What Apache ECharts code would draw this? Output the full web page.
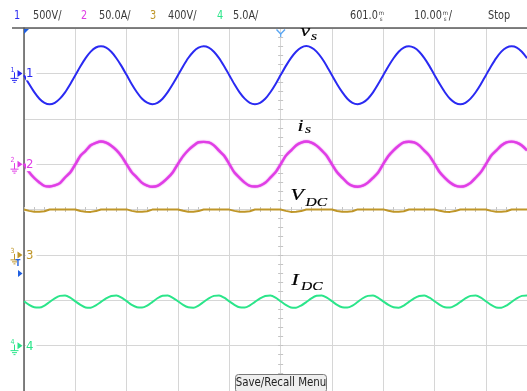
<!DOCTYPE html>
<html>
<head>
<meta charset="utf-8">
<script src="https://cdn.jsdelivr.net/npm/echarts@6/dist/echarts.min.js"></script>
<style>
  html, body { margin: 0; padding: 0; background: #fff; }
  #scope { width: 527px; height: 391px; }
</style>
</head>
<body>
<div id="scope"></div>
<script>
// Acquisition: one sample per millisecond, time measured from the trigger point
const T_START = -50;   // ms
const T_STEP = 1;      // ms

// Channel 1: grid voltage v_s (V)
const vs = [
  -20,-118,-207,-279,-325,-341,-324,-278,-209,-120,-21,78,168,240,285,299,284,238,167,80,
  -19,-119,-208,-280,-323,-340,-325,-279,-207,-118,-20,79,169,239,283,300,285,239,168,78,
  -20,-120,-209,-278,-324,-339,-324,-280,-208,-119,-19,80,168,238,284,301,284,240,169,79,
  -21,-119,-207,-279,-325,-340,-323,-279,-209,-118,-20,79,167,239,285,300,283,239,168,80,
  -20,-118,-208,-280,-324,-341,-324,-278,-208,-120,-20,78,168,240,284,299,285,238,167
];

// Channel 2: grid current i_s (A)
const is = [
  0.4,-8.8,-15.3,-20.2,-24.1,-24.6,-23.5,-20.9,-14.7,-9.3,-0.3,9.2,14.6,20.8,23.5,25.0,23.6,20.3,15.4,8.7,
  -0.2,-9.1,-14.8,-20.7,-23.6,-25.0,-24.0,-20.3,-15.2,-8.9,0.3,8.8,15.3,20.2,24.1,24.5,24.0,20.7,14.8,9.2,
  0.1,-9.3,-15.1,-20.4,-23.9,-24.7,-23.6,-20.6,-14.9,-9.0,-0.2,9.1,14.9,20.6,23.7,24.9,23.7,20.4,15.1,8.9,
  -0.3,-8.9,-14.9,-20.6,-24.0,-24.9,-23.8,-20.4,-15.1,-9.2,0.2,9.0,15.2,20.3,23.9,24.6,23.9,20.6,14.9,9.1,
  0.2,-9.0,-15.2,-20.3,-23.7,-24.8,-23.9,-20.7,-15.0,-8.8,-0.1,9.3,14.8,20.5,24.0,24.8,23.6,20.5,15.2
];

// Channel 3: DC-link voltage V_DC (V)
const vdc = [
  400,388,380,380,385,400,401,400,400,399,
  400,387,381,379,386,400,400,399,400,400,
  401,388,380,381,384,399,400,400,401,400,
  400,389,381,380,386,400,399,400,400,400,
  399,388,380,381,385,400,400,401,400,400,
  400,388,379,381,386,400,400,400,399,400,
  400,387,381,380,385,401,400,400,400,400,
  401,389,380,381,384,400,400,399,400,400,
  400,388,381,379,386,400,400,400,400,401,
  400,388,380,381,385,400,400,400,399
];

// Channel 4: DC-link current I_DC (A)
const idc = [
  4.89,4.49,4.22,4.19,4.42,4.81,5.21,5.48,5.51,5.28,
  4.88,4.50,4.21,4.18,4.43,4.82,5.20,5.47,5.52,5.29,
  4.90,4.48,4.23,4.19,4.41,4.80,5.22,5.49,5.51,5.27,
  4.89,4.49,4.22,4.17,4.42,4.81,5.21,5.48,5.53,5.28,
  4.87,4.50,4.22,4.19,4.43,4.82,5.20,5.47,5.51,5.29,
  4.89,4.49,4.21,4.18,4.42,4.80,5.21,5.49,5.52,5.28,
  4.90,4.48,4.22,4.19,4.41,4.81,5.22,5.48,5.51,5.27,
  4.88,4.49,4.23,4.18,4.42,4.82,5.21,5.47,5.52,5.28,
  4.89,4.50,4.22,4.19,4.43,4.81,5.20,5.48,5.51,5.29,
  4.89,4.49,4.21,4.18,4.42,4.81,5.21,5.48,5.52
];

// Vertical settings per channel: units per division and ground position (divisions)
const channelNames = ['1', '2', '3', '4'];
const channelScales = [500, 50, 400, 5];
const channelScaleText = ['500V/', '50.0A/', '400V/', '5.0A/'];
const channelOffsets = [3, 1, -1, -3];
const channelColors = ['#2a2af2', '#e03ee6', '#bf9628', '#2be58a'];
const channelData = [vs, is, vdc, idc];

// Horizontal settings
const timeDivText = '10.00';
const timePosText = '601.0';
const runState = 'Stop';

const UI_FONT = '"Liberation Sans Narrow", "DejaVu Sans Condensed", "Roboto", sans-serif';
const SERIF = '"Liberation Serif", "DejaVu Serif", serif';
const GRID_COLOR = '#d6d6d6';
const FRAME_COLOR = '#5a5a5a';
const HEAD_SCALE = 0.9;

const chart = echarts.init(document.getElementById('scope'), null, { renderer: 'canvas' });

function toDiv(values, scale, offset) {
  return values.map((v, i) => [T_START + i * T_STEP, offset + v / scale]);
}

const series = channelData.map((vals, c) => ({
  type: 'line',
  name: 'CH' + channelNames[c],
  xAxisIndex: 0,
  yAxisIndex: 0,
  data: toDiv(vals, channelScales[c], channelOffsets[c]),
  showSymbol: false,
  symbol: 'none',
  smooth: c === 2 ? false : 0.25,
  lineStyle: c === 1
    ? { color: channelColors[c], width: 2.4, shadowBlur: 1.5, shadowColor: 'rgba(224,62,230,0.9)' }
    : { color: channelColors[c], width: 2 },
  z: 10 + c,
  silent: true
}));

// Axes 1/2 carry the small graduation ticks on the centre cross-hair
const tickAxisCommon = {
  type: 'value', min: -50, max: 48, interval: 2,
  axisLabel: { show: false }, splitLine: { show: false },
  axisLine: { show: true, onZero: true, lineStyle: { opacity: 0 } }
};
const yTickAxisCommon = {
  type: 'value', min: -4, max: 4, interval: 0.2,
  axisLabel: { show: false }, splitLine: { show: false },
  axisLine: { show: true, onZero: true, onZeroAxisIndex: 0, lineStyle: { opacity: 0 } }
};

chart.setOption({
  animation: false,
  backgroundColor: '#ffffff',
  grid: { left: 24, right: 0, top: 28, bottom: -2, containLabel: false },
  xAxis: [
    {
      type: 'value', min: -50, max: 48, interval: 10, position: 'bottom',
      axisLine: { show: false, onZero: false },
      axisTick: { show: false }, axisLabel: { show: false },
      splitLine: { show: true, lineStyle: { color: GRID_COLOR, width: 1 } }
    },
    Object.assign({}, tickAxisCommon, { axisTick: { show: true, inside: true, length: 2.5, lineStyle: { color: '#c4c4c4' } } }),
    Object.assign({}, tickAxisCommon, { axisTick: { show: true, inside: false, length: 2.5, lineStyle: { color: '#c4c4c4' } } })
  ],
  yAxis: [
    {
      type: 'value', min: -4, max: 4, interval: 1, position: 'left',
      axisLine: { show: true, onZero: false, lineStyle: { color: FRAME_COLOR, width: 1.5 } },
      axisTick: { show: false }, axisLabel: { show: false },
      splitLine: { show: true, lineStyle: { color: GRID_COLOR, width: 1 } }
    },
    Object.assign({}, yTickAxisCommon, { axisTick: { show: true, inside: true, length: 2.5, lineStyle: { color: '#c4c4c4' } } }),
    Object.assign({}, yTickAxisCommon, { axisTick: { show: true, inside: false, length: 2.5, lineStyle: { color: '#c4c4c4' } } })
  ],
  series: series
});

// ---- Screen annotations ----
const g = [];
const measureCtx = document.createElement('canvas').getContext('2d');
function textWidth(str, font) {
  measureCtx.font = font;
  return measureCtx.measureText(str).width;
}

// header separator
g.push({ type: 'line', shape: { x1: 12, y1: 28, x2: 527, y2: 28 }, style: { stroke: FRAME_COLOR, lineWidth: 1.5 }, z: 50 });

function headText(str, x, color) {
  g.push({ type: 'text', x: x, y: 16, scaleX: HEAD_SCALE,
    style: { text: str, font: '12px ' + UI_FONT, fill: color, verticalAlign: 'middle' }, z: 50 });
  return x + textWidth(str, '12px ' + UI_FONT) * HEAD_SCALE;
}

// header: channel scale readouts
const numX = [14, 81, 150, 217];
const scaleX = [33, 99, 168, 233];
channelNames.forEach((n, c) => {
  headText(n, numX[c], channelColors[c]);
  headText(channelScaleText[c], scaleX[c], '#3a3a3a');
});

// header: timebase readouts with the stacked "ms" unit
function stackedUnit(x) {
  g.push({ type: 'text', x: x, y: 13.5, style: { text: 'm', font: '6px ' + UI_FONT, fill: '#3a3a3a', verticalAlign: 'middle' }, z: 50 });
  g.push({ type: 'text', x: x + 1, y: 19.5, style: { text: 's', font: '6px ' + UI_FONT, fill: '#3a3a3a', verticalAlign: 'middle' }, z: 50 });
  return x + 6;
}
let hx = headText(timePosText, 350, '#3a3a3a');
stackedUnit(hx + 1);
hx = headText(timeDivText, 414, '#3a3a3a');
hx = stackedUnit(hx + 1);
headText('/', hx, '#3a3a3a');
headText(runState, 488, '#3a3a3a');

// trigger position markers on the top edge
g.push({ type: 'polygon', shape: { points: [[24, 29], [29, 29], [24, 34]] }, style: { fill: '#1f5fe0' }, z: 50 });
g.push({ type: 'polyline', shape: { points: [[276.5, 29.5], [280.7, 34], [285, 29.5]] }, style: { stroke: '#5aa6f2', lineWidth: 1.4, fill: null }, z: 50 });
g.push({ type: 'line', shape: { x1: 280.7, y1: 34, x2: 280.7, y2: 37 }, style: { stroke: '#5aa6f2', lineWidth: 1.2 }, z: 50 });

// channel ground markers on the left edge
channelNames.forEach((n, c) => {
  const gy = chart.convertToPixel({ yAxisIndex: 0 }, channelOffsets[c]);
  const col = channelColors[c];
  g.push({ type: 'text', x: 10.5, y: gy - 3.5, style: { text: n, font: '7px ' + UI_FONT, fill: col, verticalAlign: 'middle' }, z: 50 });
  g.push({ type: 'line', shape: { x1: 14.5, y1: gy - 1, x2: 14.5, y2: gy + 5 }, style: { stroke: col, lineWidth: 1 }, z: 50 });
  g.push({ type: 'line', shape: { x1: 10.5, y1: gy + 5, x2: 18.5, y2: gy + 5 }, style: { stroke: col, lineWidth: 1 }, z: 50 });
  g.push({ type: 'line', shape: { x1: 12, y1: gy + 7, x2: 17, y2: gy + 7 }, style: { stroke: col, lineWidth: 1 }, z: 50 });
  g.push({ type: 'line', shape: { x1: 13.5, y1: gy + 9, x2: 15.5, y2: gy + 9 }, style: { stroke: col, lineWidth: 1 }, z: 50 });
  g.push({ type: 'polygon', shape: { points: [[17.5, gy - 3.5], [22.5, gy], [17.5, gy + 3.5]] }, style: { fill: col }, z: 50 });
  g.push({ type: 'text', x: 26, y: gy + 0.5, style: { text: n, font: '13px ' + UI_FONT, fill: col, verticalAlign: 'middle', backgroundColor: '#ffffff', padding: [0, 3, 0, 0] }, z: 50 });
});

// trigger level marker
g.push({ type: 'text', x: 15.5, y: 264, style: { text: 'T', font: 'bold 8px ' + UI_FONT, fill: '#1f5fe0', verticalAlign: 'middle' }, z: 50 });
g.push({ type: 'polygon', shape: { points: [[18, 270], [22.5, 273.5], [18, 277]] }, style: { fill: '#1f5fe0' }, z: 50 });

// trace names (italic serif, slightly widened)
const LABEL_STRETCH = 1.35;
function traceLabel(main, sub, x, y, subX, subY) {
  g.push({ type: 'text', x: x, y: y, scaleX: LABEL_STRETCH,
    style: { text: main, font: 'italic 16px ' + SERIF, fill: '#000', stroke: '#000', lineWidth: 0.2, verticalAlign: 'middle' }, z: 60 });
  g.push({ type: 'text', x: subX, y: subY, scaleX: LABEL_STRETCH,
    style: { text: sub, font: 'italic 11.5px ' + SERIF, fill: '#000', stroke: '#000', lineWidth: 0.15, verticalAlign: 'middle' }, z: 60 });
}
traceLabel('v', 's', 300.5, 32, 311, 37.2);
traceLabel('i', 's', 297.5, 126.5, 305, 129.8);
traceLabel('V', 'DC', 290.5, 196, 305.5, 202.7);
traceLabel('I', 'DC', 291.5, 281, 301, 287.4);

// soft-key label at the bottom
g.push({ type: 'rect', shape: { x: 235.5, y: 374.5, width: 91, height: 18, r: 3 }, style: { fill: '#eeeeee', stroke: '#7a7a7a', lineWidth: 1 }, z: 50 });
g.push({ type: 'text', x: 281, y: 383, scaleX: 0.95, originX: 0,
  style: { text: 'Save/Recall Menu', font: '12px ' + UI_FONT, fill: '#222', align: 'center', verticalAlign: 'middle' }, z: 51 });

chart.setOption({ graphic: { elements: g } });
</script>
</body>
</html>
